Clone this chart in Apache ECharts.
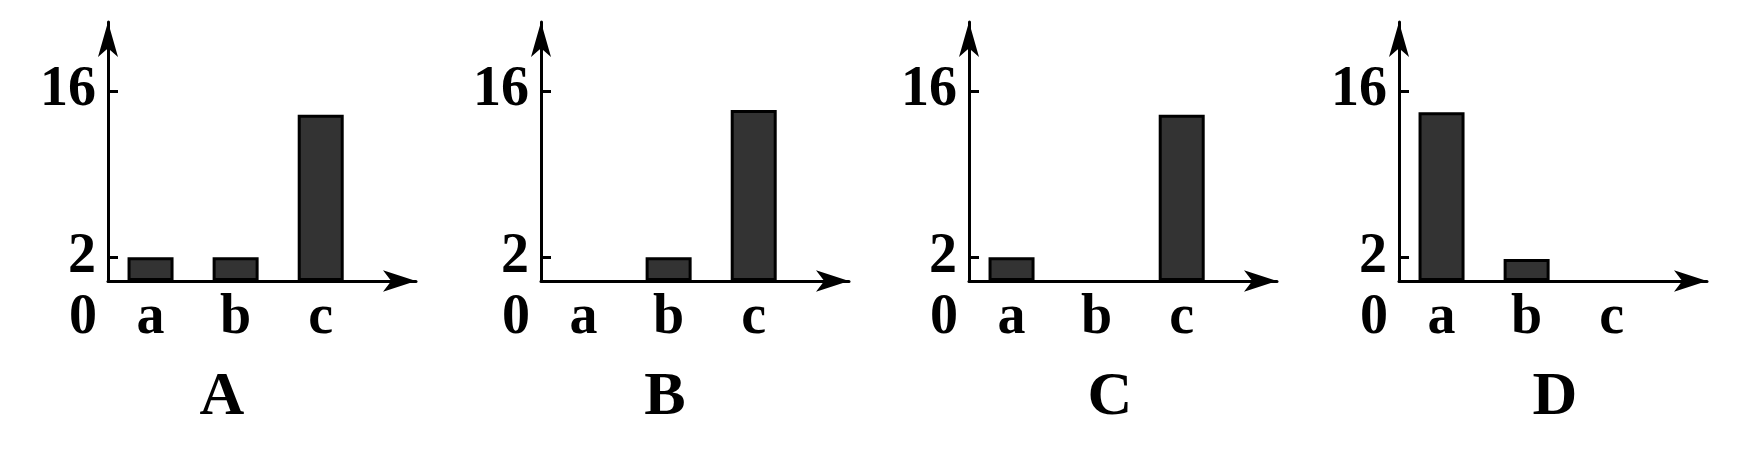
<!DOCTYPE html>
<html><head><meta charset="utf-8">
<script src="https://cdn.jsdelivr.net/npm/echarts@6/dist/echarts.min.js"></script>
<style>html,body{margin:0;padding:0;background:#fff;} #c{width:1742px;height:453px;}</style>
</head><body><div id="c"></div>
<script>
// ---- data ----
const categories = ['a', 'b', 'c'];
const panelNames = ['A', 'B', 'C', 'D'];
const yTickValues = [2, 16];
const valuesA = [2, 2, 14.0];
const valuesB = [0, 2, 14.4];
const valuesC = [2, 0, 14.0];
const valuesD = [14.2, 1.85, 0];
const panels = [valuesA, valuesB, valuesC, valuesD];

// ---- layout / style ----
const gridLefts = [108, 541, 969, 1399];
const titleX = [222, 665, 1110, 1555];
const FONT = 'Liberation Serif';
const txt = {color: '#000', fontFamily: FONT, fontWeight: 'bold', fontSize: 56};

const chart = echarts.init(document.getElementById('c'), null, {renderer: 'canvas'});
const grids = [], xAxes = [], yAxes = [], series = [], graphics = [];
panels.forEach((vals, k) => {
  grids.push({left: gridLefts[k], top: 22, width: 308, height: 259, outerBoundsMode: 'none', containLabel: false});
  xAxes.push({
    type: 'value', gridIndex: k, min: 0, max: 3.62,
    axisLine: {show: true, onZero: false, lineStyle: {color: '#000', width: 3}, symbol: ['none', 'arrow'], symbolSize: [16, 33]},
    axisTick: {show: false}, splitLine: {show: false},
    axisLabel: Object.assign({}, txt, {
      customValues: [0].concat(categories.map((c, i) => i + 0.5)),
      margin: 10,
      formatter: v => v === 0 ? '{z|0}' : categories[Math.round(v - 0.5)],
      rich: {z: Object.assign({}, txt, {padding: [0, 50, 0, 0]})}
    })
  });
  yAxes.push({
    type: 'value', gridIndex: k, min: 0, max: 21.81,
    axisLine: {show: true, onZero: false, lineStyle: {color: '#000', width: 3}, symbol: ['none', 'arrow'], symbolSize: [15, 35]},
    axisTick: {show: true, inside: true, length: 10, customValues: yTickValues, lineStyle: {color: '#000', width: 3}},
    splitLine: {show: false},
    axisLabel: Object.assign({}, txt, {customValues: yTickValues, margin: 12})
  });
  series.push({
    type: 'bar', xAxisIndex: k, yAxisIndex: k, barWidth: 46, barMaxWidth: 60,
    data: vals.map((v, i) => v > 0 ? [i + 0.5, v] : null).filter(d => d),
    itemStyle: {color: '#333333', borderColor: '#000', borderWidth: 3},
    silent: true, animation: false
  });
  graphics.push({
    type: 'text', x: titleX[k], y: 398,
    style: {text: panelNames[k], fill: '#000', fontFamily: FONT, fontWeight: 'bold', fontSize: 62, align: 'center', verticalAlign: 'middle'}
  });
});

chart.setOption({
  backgroundColor: '#fff',
  animation: false,
  grid: grids, xAxis: xAxes, yAxis: yAxes, series: series,
  graphic: graphics
});
</script></body></html>
